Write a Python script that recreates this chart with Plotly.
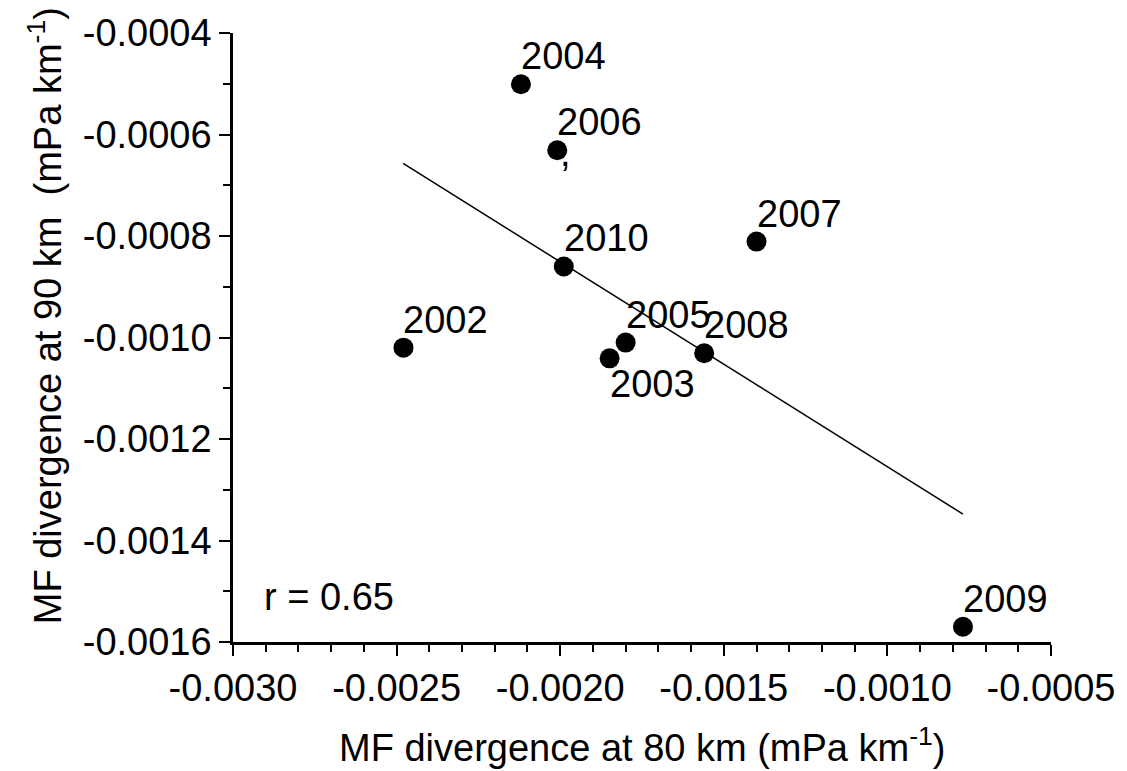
import plotly.graph_objects as go

# Data
years = ["2002", "2003", "2004", "2005", "2006", "2007", "2008", "2009", "2010"]
mf80 = [-0.002479, -0.001849, -0.002120, -0.001800, -0.002009, -0.001400, -0.001560, -0.000769, -0.001989]
mf90 = [-0.001020, -0.001041, -0.000501, -0.001010, -0.000631, -0.000811, -0.001031, -0.001570, -0.000860]
label_below = ["2003"]

# Regression line endpoints (as drawn)
fit_x = [-0.002480, -0.000769]
fit_y = [-0.000657, -0.001348]

x_tickvals = [-0.0030, -0.0025, -0.0020, -0.0015, -0.0010, -0.0005]
x_ticktext = ["-0.0030", "-0.0025", "-0.0020", "-0.0015", "-0.0010", "-0.0005"]
y_tickvals = [-0.0016, -0.0014, -0.0012, -0.0010, -0.0008, -0.0006, -0.0004]
y_ticktext = ["-0.0016", "-0.0014", "-0.0012", "-0.0010", "-0.0008", "-0.0006", "-0.0004"]

FONT = "Liberation Sans, Arial, sans-serif"
FS = 38

fig = go.Figure()
fig.add_trace(go.Scatter(x=fit_x, y=fit_y, mode="lines",
                         line=dict(color="black", width=1.5), showlegend=False,
                         hoverinfo="skip"))
fig.add_trace(go.Scatter(x=mf80, y=mf90, mode="markers",
                         marker=dict(color="black", size=20, line=dict(width=0)),
                         showlegend=False, text=years))

annotations = []
for yr, xv, yv in zip(years, mf80, mf90):
    if yr in label_below:
        annotations.append(dict(x=xv, y=yv, xref="x", yref="y", text=yr, showarrow=False,
                                xanchor="left", yanchor="top", xshift=-2, yshift=-3,
                                font=dict(family=FONT, size=FS, color="black")))
    else:
        annotations.append(dict(x=xv, y=yv, xref="x", yref="y", text=yr, showarrow=False,
                                xanchor="left", yanchor="bottom", xshift=-2, yshift=5,
                                font=dict(family=FONT, size=FS, color="black")))

# stray comma under the 2006 point
annotations.append(dict(x=mf80[4], y=mf90[4], xref="x", yref="y", text=",", showarrow=False,
                        xanchor="center", yanchor="middle", xshift=8, yshift=-3,
                        font=dict(family=FONT, size=FS, color="black")))

annotations.append(dict(x=0, y=0, xref="paper", yref="paper", text="r = 0.65", showarrow=False,
                        xanchor="left", yanchor="bottom", xshift=29, yshift=22,
                        font=dict(family=FONT, size=FS, color="black")))

annotations.append(dict(x=0.5, y=0, xref="paper", yref="paper",
                        text="MF divergence at 80 km (mPa km<sup>-1</sup>)", showarrow=False,
                        xanchor="center", yanchor="middle", yshift=-103,
                        font=dict(family=FONT, size=FS, color="black")))
annotations.append(dict(x=0, y=0.535, xref="paper", yref="paper",
                        text="MF divergence at 90 km  (mPa km<sup>-1</sup>)", showarrow=False,
                        xanchor="center", yanchor="middle", xshift=-188, textangle=-90,
                        font=dict(family=FONT, size=FS, color="black")))

axis_common = dict(showgrid=False, zeroline=False, showline=True, linecolor="black",
                   linewidth=2.5, ticks="outside", ticklen=11, tickwidth=2, tickcolor="black",
                   tickfont=dict(family=FONT, size=FS, color="black"), mirror=False)

fig.update_layout(
    width=1127, height=771,
    margin=dict(l=233, r=69, t=33, b=129),
    paper_bgcolor="white", plot_bgcolor="white",
    annotations=annotations,
    xaxis=dict(range=[-0.0030, -0.0005], tickmode="array", tickvals=x_tickvals,
               ticktext=x_ticktext,
               minor=dict(dtick=0.0001, tick0=-0.0030, ticks="outside", ticklen=7,
                          tickwidth=2, tickcolor="black", showgrid=False),
               **axis_common),
    yaxis=dict(range=[-0.0016, -0.0004], tickmode="array", tickvals=y_tickvals,
               ticktext=y_ticktext,
               minor=dict(dtick=0.0001, tick0=-0.0016, ticks="outside", ticklen=7,
                          tickwidth=2, tickcolor="black", showgrid=False),
               **axis_common),
)

fig.write_html("out.html")
